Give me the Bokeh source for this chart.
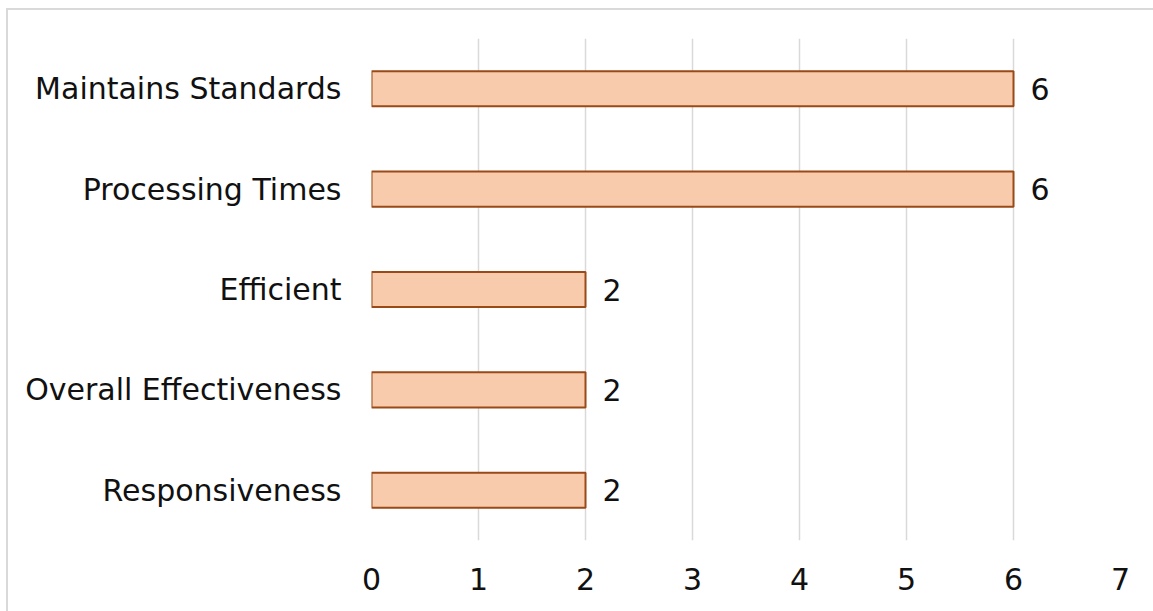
from bokeh.plotting import figure
from bokeh.models import ColumnDataSource, FactorRange, Range1d, FixedTicker
from bokeh.core.properties import value
from bokeh.embed import file_html
from bokeh.resources import INLINE

categories = ["Maintains Standards", "Processing Times", "Efficient",
              "Overall Effectiveness", "Responsiveness"]
counts = [6, 6, 2, 2, 2]
x_ticks = [0, 1, 2, 3, 4, 5, 6, 7]

FONT = "DejaVu Sans"
FS = "30px"
factors = list(reversed(categories))
src = ColumnDataSource(dict(cat=categories, val=counts, lab=[str(v) for v in counts]))

p = figure(width=1147, height=603, output_backend="svg", toolbar_location=None,
           y_range=FactorRange(factors=factors, range_padding=0),
           x_range=Range1d(0, 7),
           min_border_left=363, min_border_top=28, min_border_right=35, min_border_bottom=73)
p.margin = (8, 0, 0, 6)
p.styles = {"border-top": "2px solid #d9d9d9", "border-left": "2px solid #d9d9d9",
            "box-sizing": "border-box"}
p.outline_line_color = None
p.background_fill_color = "white"

p.hbar(y="cat", right="val", left=0, height=0.35, source=src,
       fill_color="#F8CBAD", line_color="#9A4A17", line_width=2)

p.text(x="val", y="cat", text="lab", source=src, x_offset=17,
       text_align="left", text_baseline="middle", text_font=value(FONT),
       text_font_size=FS, text_color="#111111")

p.xgrid.grid_line_color = "#D9D9D9"
p.xgrid.grid_line_width = 1.5
p.ygrid.grid_line_color = None
p.xaxis.ticker = FixedTicker(ticks=x_ticks)

for ax in (p.xaxis[0], p.yaxis[0]):
    ax.axis_line_color = None
    ax.major_tick_line_color = None
    ax.minor_tick_line_color = None
    ax.major_label_text_font = FONT
    ax.major_label_text_font_size = FS
    ax.major_label_text_color = "#111111"
p.xaxis.major_label_standoff = 21
p.yaxis.major_label_standoff = 24

open("out.html", "w").write(file_html(p, INLINE))
